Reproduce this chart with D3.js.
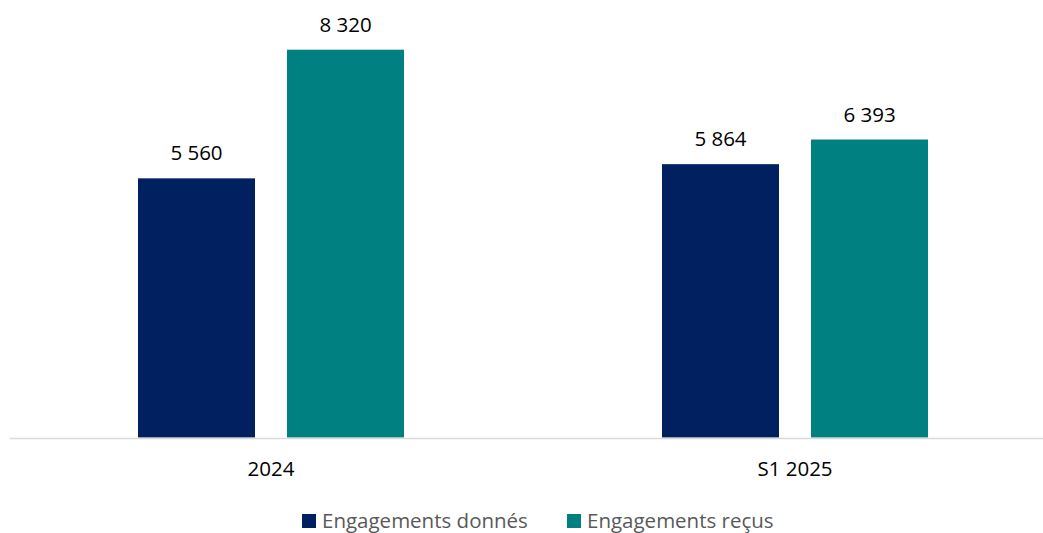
<!DOCTYPE html>
<html>
<head>
<meta charset="utf-8">
<script src="https://cdn.jsdelivr.net/npm/d3@7"></script>
<style>
  html, body { margin: 0; padding: 0; background: #fff; }
  svg { display: block; font-family: "Open Sans", sans-serif; }
</style>
</head>
<body>
<svg id="chart" width="1043" height="533"></svg>
<script>
// Off-balance-sheet commitments, in units shown on the labels
const categories = ["2024", "S1 2025"];
const seriesNames = ["Engagements donnés", "Engagements reçus"];
const donnes = [5560, 5864];
const recus = [8320, 6393];
const seriesColors = ["#002060", "#008080"];

const W = 1043, H = 533;
const margin = { left: 9, right: -14, top: 18, bottom: 95.5 };
const baseY = H - margin.bottom;

const svg = d3.select("#chart");

const rows = categories.map((c, i) => ({ cat: c, values: [donnes[i], recus[i]] }));

const x0 = d3.scaleBand()
  .domain(categories)
  .range([margin.left, W - margin.right])
  .padding(0);

const groupPad = 129;
const x1 = d3.scaleBand()
  .domain(seriesNames)
  .range([groupPad, x0.bandwidth() - groupPad])
  .paddingInner(0.2148)
  .paddingOuter(0);

const y = d3.scaleLinear()
  .domain([0, 9000])
  .range([baseY, margin.top]);

const fmt = v => d3.format(",")(v).replace(/,/g, " ");

// bars
const groups = svg.append("g").selectAll("g")
  .data(rows)
  .join("g")
  .attr("transform", d => `translate(${x0(d.cat)},0)`);

groups.selectAll("rect")
  .data(d => d.values.map((v, i) => ({ name: seriesNames[i], value: v, i })))
  .join("rect")
  .attr("x", d => x1(d.name))
  .attr("width", x1.bandwidth())
  .attr("y", d => y(d.value))
  .attr("height", d => baseY - y(d.value))
  .attr("fill", d => seriesColors[d.i]);

// value labels
groups.selectAll("text.val")
  .data(d => d.values.map((v, i) => ({ name: seriesNames[i], value: v })))
  .join("text")
  .attr("class", "val")
  .attr("x", d => x1(d.name) + x1.bandwidth() / 2)
  .attr("y", d => y(d.value) - 18)
  .attr("text-anchor", "middle")
  .attr("font-size", 20.5)
  .attr("fill", "#000")
  .text(d => fmt(d.value));

// category axis
const axis = svg.append("g")
  .attr("transform", `translate(0,${baseY + 0.5})`)
  .call(d3.axisBottom(x0).tickSize(0).tickPadding(0));
axis.select(".domain")
  .attr("stroke", "#d9d9d9")
  .attr("stroke-width", 1.6);
axis.selectAll(".tick text")
  .attr("font-family", "Open Sans, sans-serif")
  .attr("font-size", 20.5)
  .attr("fill", "#000")
  .attr("dy", null)
  .attr("y", 37.5);

// legend
const legendItems = [
  { name: seriesNames[0], color: seriesColors[0], x: 302 },
  { name: seriesNames[1], color: seriesColors[1], x: 567 }
];
const lg = svg.append("g").selectAll("g")
  .data(legendItems)
  .join("g")
  .attr("transform", d => `translate(${d.x},0)`);
lg.append("rect")
  .attr("x", 0)
  .attr("y", 514)
  .attr("width", 14)
  .attr("height", 14)
  .attr("fill", d => d.color);
lg.append("text")
  .attr("x", 20)
  .attr("y", 527.5)
  .attr("font-size", 20.5)
  .attr("fill", "#595959")
  .text(d => d.name);
</script>
</body>
</html>
